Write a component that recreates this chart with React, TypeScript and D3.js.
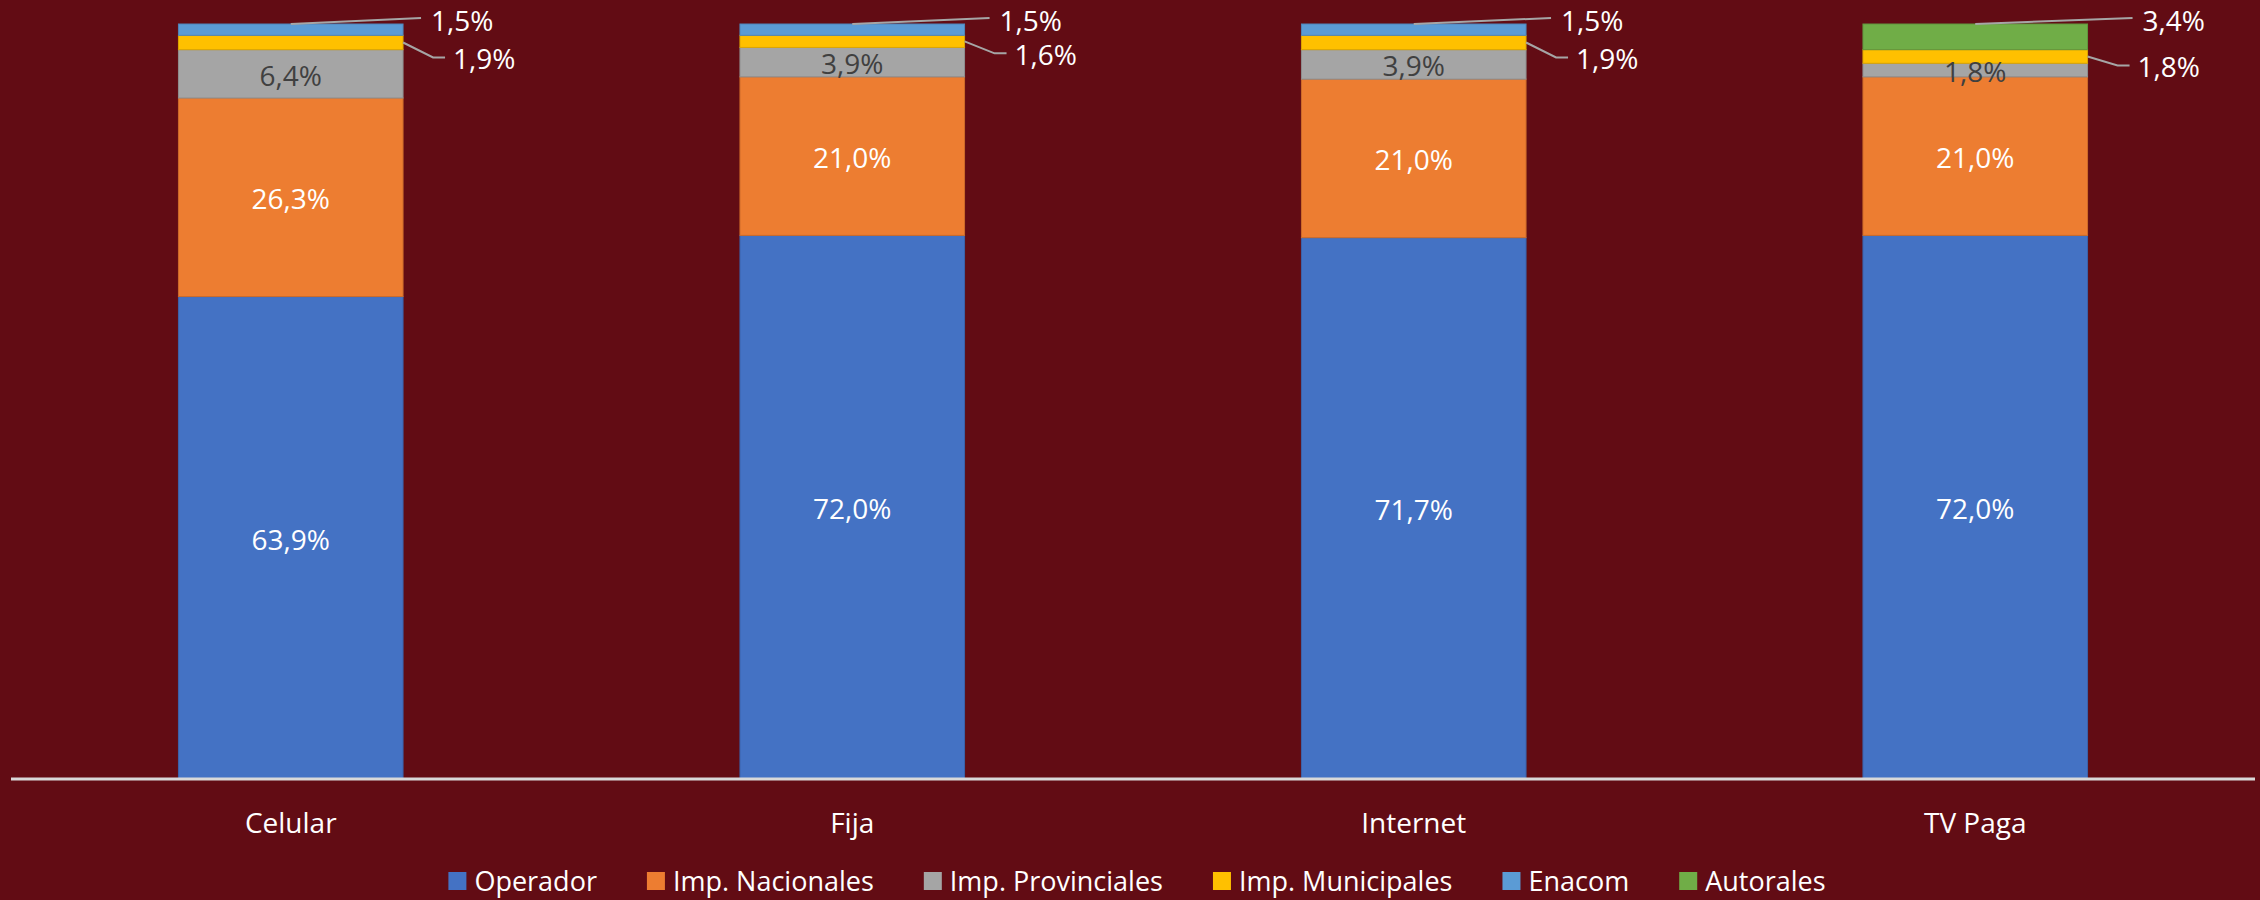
import * as d3 from "d3";
import { useEffect, useRef } from "react";

const categories = ["Celular", "Fija", "Internet", "TV Paga"];
const seriesNames = [
  "Operador",
  "Imp. Nacionales",
  "Imp. Provinciales",
  "Imp. Municipales",
  "Enacom",
  "Autorales",
];
const operador = [63.9, 72.0, 71.7, 72.0];
const impNacionales = [26.3, 21.0, 21.0, 21.0];
const impProvinciales = [6.4, 3.9, 3.9, 1.8];
const impMunicipales = [1.9, 1.6, 1.9, 1.8];
const enacom = [1.5, 1.5, 1.5, 0];
const autorales = [0, 0, 0, 3.4];
const colors = ["#4472C4", "#ED7D31", "#A5A5A5", "#FFC000", "#5B9BD5", "#70AD47"];

const W = 2260;
const H = 900;
const BG = "#620c14";
const FONT = "'Open Sans', 'Noto Sans', sans-serif";

const fmt = (v: number) => d3.format(".1f")(v).replace(".", ",") + "%";

export default function App() {
  const ref = useRef<SVGSVGElement>(null);

  useEffect(() => {
    if (!ref.current) return;
    const svg = d3.select(ref.current);
    svg.selectAll("*").remove();

    svg.append("rect").attr("width", W).attr("height", H).attr("fill", BG);

    const values = [operador, impNacionales, impProvinciales, impMunicipales, enacom, autorales];
    const rows = categories.map((c, i) => {
      const r: Record<string, any> = { cat: c };
      seriesNames.forEach((s, j) => (r[s] = values[j][i]));
      return r;
    });
    const stacked = d3.stack<any>().keys(seriesNames)(rows);

    const x = d3
      .scaleBand()
      .domain(categories)
      .range([10, 2256])
      .paddingInner(0.6)
      .paddingOuter(0.3);
    const y = d3.scaleLinear().domain([0, 100]).range([779, 24]);

    // bars
    stacked.forEach((layer, j) => {
      svg
        .append("g")
        .selectAll("rect")
        .data(layer.filter((d) => d[1] - d[0] > 0))
        .join("rect")
        .attr("x", (d) => x(d.data.cat)!)
        .attr("y", (d) => y(d[1]))
        .attr("width", x.bandwidth())
        .attr("height", (d) => y(d[0]) - y(d[1]))
        .attr("fill", colors[j])
        .attr("stroke", d3.color(colors[j])!.darker(0.4).toString())
        .attr("stroke-width", 1);
    });

    // axis line
    svg
      .append("line")
      .attr("x1", 11)
      .attr("x2", 2255)
      .attr("y1", 779)
      .attr("y2", 779)
      .attr("stroke", "#d9d9d9")
      .attr("stroke-width", 3);

    // category labels
    svg
      .append("g")
      .selectAll("text")
      .data(categories)
      .join("text")
      .attr("x", (d) => x(d)! + x.bandwidth() / 2)
      .attr("y", 822)
      .attr("text-anchor", "middle")
      .attr("dominant-baseline", "central")
      .attr("font-family", FONT)
      .attr("font-size", 28)
      .attr("fill", "#ffffff")
      .text((d) => d);

    // inside labels: Operador, Nacionales, Provinciales
    const inside = [0, 1, 2];
    inside.forEach((j) => {
      svg
        .append("g")
        .selectAll("text")
        .data(stacked[j].filter((d) => d[1] - d[0] > 0))
        .join("text")
        .attr("x", (d) => x(d.data.cat)! + x.bandwidth() / 2)
        .attr("y", (d) => (y(d[0]) + y(d[1])) / 2 + 1)
        .attr("text-anchor", "middle")
        .attr("dominant-baseline", "central")
        .attr("font-family", FONT)
        .attr("font-size", 28)
        .attr("fill", j === 2 ? "#404040" : "#ffffff")
        .text((d) => fmt(d[1] - d[0]));
    });

    // outside labels with leader lines
    const lead = svg.append("g");
    const lineColor = "#a6a6a6";
    categories.forEach((c, i) => {
      const left = x(c)!;
      const right = left + x.bandwidth();
      const cx = left + x.bandwidth() / 2;

      // top segment (Enacom or Autorales)
      const topIdx = [5, 4].find((j) => values[j][i] > 0)!;
      const topSeg = stacked[topIdx][i];
      const yTop = y(topSeg[1]);
      const tOff = i === 3 ? 45 : i === 0 ? 18 : 25;
      lead
        .append("polyline")
        .attr("points", `${cx},${yTop} ${right + tOff},${yTop - 6}`)
        .attr("fill", "none")
        .attr("stroke", lineColor)
        .attr("stroke-width", 2);
      lead
        .append("text")
        .attr("x", right + tOff + 10)
        .attr("y", yTop - 4)
        .attr("dominant-baseline", "central")
        .attr("font-family", FONT)
        .attr("font-size", 28)
        .attr("fill", "#ffffff")
        .text(fmt(values[topIdx][i]));

      // municipales
      const m = stacked[3][i];
      const mMid = (y(m[0]) + y(m[1])) / 2;
      const ly = mMid + (i === 3 ? 9 : i === 1 ? 12 : 15);
      lead
        .append("polyline")
        .attr("points", `${right},${mMid} ${right + 30},${ly} ${right + 42},${ly}`)
        .attr("fill", "none")
        .attr("stroke", lineColor)
        .attr("stroke-width", 2);
      lead
        .append("text")
        .attr("x", right + 50)
        .attr("y", ly + 1)
        .attr("dominant-baseline", "central")
        .attr("font-family", FONT)
        .attr("font-size", 28)
        .attr("fill", "#ffffff")
        .text(fmt(values[3][i]));
    });

    // legend
    const legend = svg.append("g");
    const items = seriesNames.map((s, j) => {
      const g = legend.append("g");
      g.append("rect")
        .attr("y", 872)
        .attr("width", 18)
        .attr("height", 18)
        .attr("fill", colors[j]);
      const t = g
        .append("text")
        .attr("x", 26)
        .attr("y", 880)
        .attr("dominant-baseline", "central")
        .attr("font-family", FONT)
        .attr("font-size", 27)
        .attr("fill", "#ffffff")
        .text(s);
      const w = (t.node() as SVGTextElement).getComputedTextLength();
      return { g, w: 26 + w };
    });
    const gap = 50;
    const total = d3.sum(items, (d) => d.w) + gap * (items.length - 1);
    let cursor = 1137 - total / 2;
    items.forEach((it) => {
      it.g.attr("transform", `translate(${cursor},0)`);
      cursor += it.w + gap;
    });
  }, []);

  return (
    <>
      <style>{`html,body{margin:0;padding:0;background:${BG};}`}</style>
      <svg ref={ref} width={W} height={H} style={{ display: "block" }} />
    </>
  );
}
